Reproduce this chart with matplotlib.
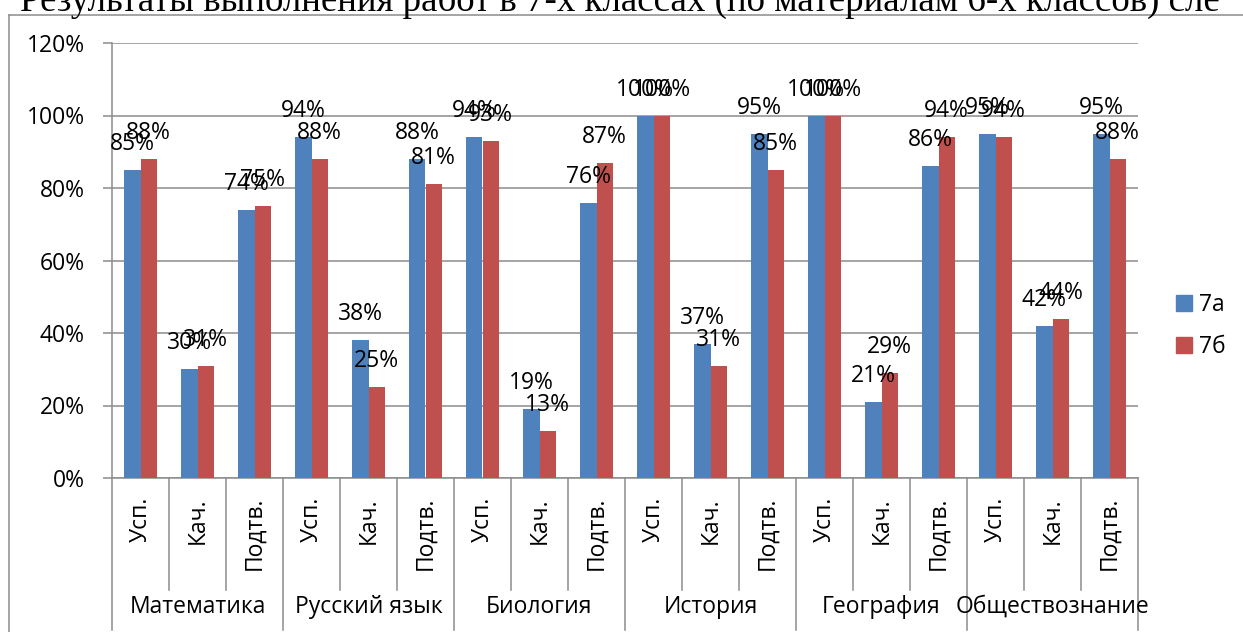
import matplotlib
matplotlib.use("Agg")
import matplotlib.pyplot as plt
from matplotlib.patches import Patch
from matplotlib.lines import Line2D

# Data
subjects = ["Математика", "Русский язык", "Биология", "История", "География", "Обществознание"]
measures = ["Усп.", "Кач.", "Подтв."]
series_names = ["7а", "7б"]
vals_7a = [85, 30, 74, 94, 38, 88, 94, 19, 76, 100, 37, 95, 100, 21, 86, 95, 42, 95]
vals_7b = [88, 31, 75, 88, 25, 81, 93, 13, 87, 100, 31, 85, 100, 29, 94, 94, 44, 88]
yticks = [0, 20, 40, 60, 80, 100, 120]

title = "Результаты выполнения работ в 7-х классах (по материалам 6-х классов) сле"

BLUE = "#4F81BD"
RED = "#C0504D"
GRID = "#8C8C8C"

plt.rcParams["font.family"] = ["Open Sans", "DejaVu Sans"]
FS = 16.5

W, H = 1243, 632
fig = plt.figure(figsize=(W / 100, H / 100), dpi=100)

# axes rectangle in pixels: x 112..1138, y 43..478
ax = fig.add_axes([112 / W, 1 - 478 / H, (1138 - 112) / W, (478 - 43) / H])

n = len(vals_7a)
x = list(range(n))
bw = 1 / 3.5  # gap width 150%
ax.bar([i - bw / 2 for i in x], vals_7a, width=bw, color=BLUE, zorder=3)
ax.bar([i + bw / 2 for i in x], vals_7b, width=bw, color=RED, zorder=3)

# data labels above each bar
for i in x:
    for v, dx in ((vals_7a[i], -bw / 2), (vals_7b[i], bw / 2)):
        ax.annotate(f"{v}%", (i + dx, v), xytext=(0, 18.7), textcoords="offset points",
                    ha="center", va="center", fontsize=FS, color="black", zorder=5,
                    annotation_clip=False)

ax.set_xlim(-0.5, n - 0.5)
ax.set_ylim(0, 120)
ax.set_yticks(yticks)
ax.set_yticklabels([f"{t}%" for t in yticks], fontsize=FS)
ax.tick_params(axis="y", length=6.5, width=1.1, color=GRID, pad=13)
ax.set_xticks([])
ax.yaxis.grid(True, color=GRID, linewidth=1.1, zorder=0)
ax.set_axisbelow(True)
for s in ("top", "right"):
    ax.spines[s].set_visible(False)
for s in ("left", "bottom"):
    ax.spines[s].set_color(GRID)
    ax.spines[s].set_linewidth(1.1)

# category separators below the axis
trans = ax.get_xaxis_transform()
inner_y = (478 - 590) / 435
group_y = (478 - 630) / 435
for b in range(n + 1):
    yb = group_y if b % 3 == 0 else inner_y
    ax.plot([b - 0.5, b - 0.5], [0, yb], transform=trans, color=GRID, lw=1.1,
            clip_on=False, zorder=1)

# sub-category labels (rotated)
for i in x:
    ax.text(i, (478 - 497) / 435, measures[i % 3], transform=trans, rotation=90,
            ha="center", va="top", fontsize=FS)

# subject labels
for g, name in enumerate(subjects):
    ax.text(g * 3 + 1, (478 - 607) / 435, name, transform=trans,
            ha="center", va="center", fontsize=FS)

# legend
handles = [Patch(color=BLUE), Patch(color=RED)]
fig.legend(handles, series_names, loc="center left",
           bbox_to_anchor=(1176 / W, 1 - 326 / H), frameon=False, fontsize=FS,
           handlelength=0.7, handleheight=0.7, handletextpad=0.3, labelspacing=0.75,
           borderpad=0, borderaxespad=0)

# frame around the chart (cut off at right and bottom)
fig.add_artist(Line2D([9 / W, 1], [1 - 15 / H, 1 - 15 / H], color=GRID, lw=1.1))
fig.add_artist(Line2D([9 / W, 9 / W], [0, 1 - 15 / H], color=GRID, lw=1.1))

# partially visible heading above the chart
fig.text(20 / W, 1 - 11 / H, title, fontfamily=["Liberation Serif", "DejaVu Serif"],
         fontsize=26.6, ha="left", va="baseline")

fig.savefig("out.png", dpi=100)
